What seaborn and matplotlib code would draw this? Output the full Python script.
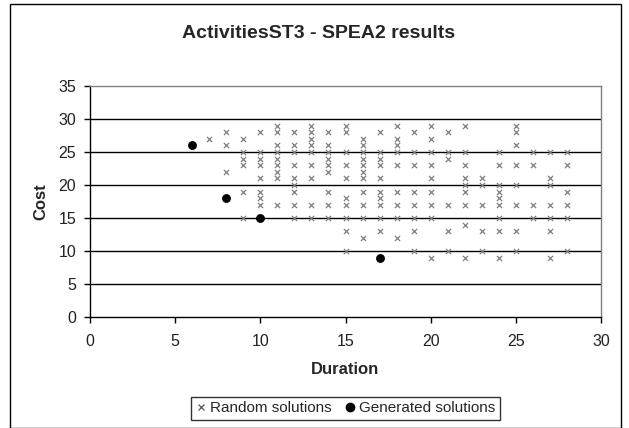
import numpy as np
import pandas as pd
import matplotlib
matplotlib.use("Agg")
import matplotlib.pyplot as plt
from matplotlib.lines import Line2D
from matplotlib.patches import Rectangle
import seaborn as sns

# Random solutions: for each duration, the list of costs found
random_durations = [7, 8, 9, 10, 11, 12, 13, 14, 15, 16, 17, 18, 19, 20,
                    21, 22, 23, 24, 25, 26, 27, 28]
random_costs = [
    [27],
    [28, 26, 22],
    [27, 25, 24, 23, 19, 15],
    [28, 25, 24, 23, 21, 19, 18, 17],
    [29, 28, 26, 25, 24, 23, 22, 21, 17],
    [28, 26, 25, 23, 21, 20, 19, 17, 15],
    [29, 28, 27, 26, 25, 23, 21, 17, 15],
    [28, 26, 25, 24, 23, 22, 19, 17, 15],
    [29, 28, 25, 23, 21, 18, 17, 15, 13, 10],
    [27, 26, 25, 24, 23, 22, 21, 19, 17, 15, 12],
    [28, 25, 24, 23, 21, 19, 18, 17, 15, 13],
    [29, 27, 26, 25, 23, 19, 17, 15, 12],
    [28, 25, 23, 19, 17, 15, 13, 10],
    [29, 27, 25, 23, 21, 19, 17, 15, 9],
    [28, 25, 24, 17, 13, 10],
    [29, 25, 23, 21, 20, 19, 17, 14, 9],
    [21, 20, 17, 13, 10],
    [25, 23, 20, 19, 18, 17, 15, 13, 9],
    [29, 28, 26, 23, 20, 17, 13, 10],
    [25, 23, 17, 15],
    [25, 21, 20, 17, 15, 13, 9],
    [25, 23, 19, 17, 15, 10],
]

# Generated (SPEA2) solutions
generated_duration = [6, 8, 10, 17]
generated_cost = [26, 18, 15, 9]

series_names = ["Random solutions", "Generated solutions"]
title = "ActivitiesST3 - SPEA2 results"
x_ticks = [0, 5, 10, 15, 20, 25, 30]
y_ticks = [0, 5, 10, 15, 20, 25, 30, 35]

rows = []
for d, cs in zip(random_durations, random_costs):
    for c in cs:
        rows.append((d, c, series_names[0]))
random_df = pd.DataFrame(rows, columns=["Duration", "Cost", "Series"])
generated_df = pd.DataFrame({"Duration": generated_duration,
                             "Cost": generated_cost,
                             "Series": series_names[1]})

sns.set_style("white")
plt.rcParams["font.family"] = ["Liberation Sans", "DejaVu Sans"]

fig = plt.figure(figsize=(6.29, 4.28), dpi=100)
ax = fig.add_axes([90 / 629, 111 / 428, 511 / 629, 231 / 428])

# horizontal gridlines
for yv in y_ticks[1:-1]:
    ax.axhline(yv, color="black", lw=1.0, zorder=1)

sns.scatterplot(data=random_df, x="Duration", y="Cost", marker="x",
                color="#808080", s=14, linewidth=0.9, ax=ax, zorder=3,
                legend=False)
sns.scatterplot(data=generated_df, x="Duration", y="Cost", marker="o",
                color="black", s=34, edgecolor="black", linewidth=0.5,
                ax=ax, zorder=4, legend=False)

ax.set_xlim(0, 30)
ax.set_ylim(0, 35)
ax.set_xticks(x_ticks)
ax.set_yticks(y_ticks)
ax.tick_params(axis="both", direction="out", length=4.5, width=1,
               color="black", labelsize=11.5, labelcolor="#222222",
               bottom=True, left=True)
ax.tick_params(axis="y", pad=5.5)
ax.tick_params(axis="x", pad=8)
ax.set_xlabel("Duration", fontsize=12, fontweight="bold", labelpad=9)
ax.set_ylabel("Cost", fontsize=12, fontweight="bold", labelpad=7)

for side in ["left", "bottom"]:
    ax.spines[side].set_color("black")
    ax.spines[side].set_linewidth(1.0)
for side in ["top", "right"]:
    ax.spines[side].set_color("#808080")
    ax.spines[side].set_linewidth(1.0)

fig.text(318.5 / 629, 1 - 34 / 428, title, ha="center", va="center",
         fontsize=14, fontweight="bold")

handles = [
    Line2D([], [], marker="x", linestyle="none", color="#555555",
           markersize=4, markeredgewidth=0.9),
    Line2D([], [], marker="o", linestyle="none", color="black",
           markersize=6),
]
leg = fig.legend(handles, series_names, loc="center",
                 bbox_to_anchor=(345.5 / 629, 1 - 408.5 / 428), ncol=2,
                 frameon=True, fancybox=False, fontsize=11,
                 handlelength=0.6, handletextpad=0.3, columnspacing=0.9,
                 borderpad=0.3, borderaxespad=0)
leg.get_frame().set_edgecolor("black")
leg.get_frame().set_linewidth(1.0)

# outer chart border
fig.patches.append(Rectangle((9.5 / 629, 0.5 / 428), 611 / 629, 424 / 428,
                             transform=fig.transFigure, fill=False,
                             edgecolor="black", linewidth=1.0))

fig.savefig("out.png", dpi=100)
